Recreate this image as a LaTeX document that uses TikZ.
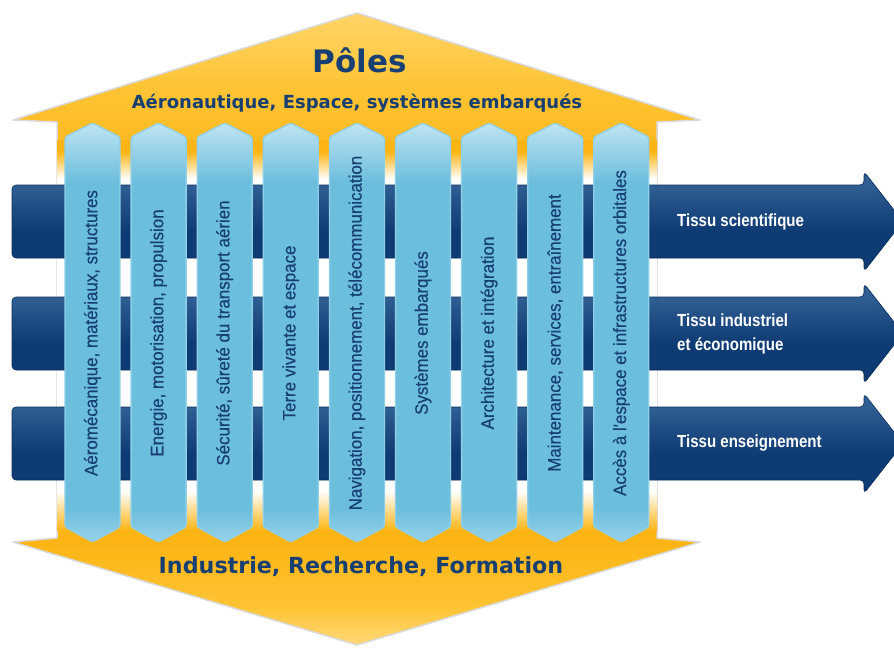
\documentclass[tikz,border=0pt]{standalone}
\usepackage{fontspec}
\setmainfont{Liberation Sans}
\newfontfamily\headfont{DejaVu Sans}
\newfontfamily\condfont[FakeStretch=0.86]{Liberation Sans}
\newfontfamily\colfont[FakeStretch=0.94,FakeBold=0.4]{Liberation Sans}
\definecolor{orng}{HTML}{FDB515}
\definecolor{ormid}{HTML}{FEC434}
\definecolor{ortop}{HTML}{FFD466}
\definecolor{orbot}{HTML}{FFD878}
\definecolor{navy}{HTML}{0E3B73}
\definecolor{navytop}{HTML}{2F5E92}
\definecolor{colfill}{HTML}{6CBEDD}
\definecolor{coltop}{HTML}{C0E4F2}
\definecolor{colbot}{HTML}{98D2E9}
\definecolor{colborder}{HTML}{8FCFE7}
\definecolor{txtblue}{HTML}{173F72}
\pgfdeclareverticalshading{orangeshade}{100bp}{color(0bp)=(orbot); color(25bp)=(orbot); color(28bp)=(ormid); color(33bp)=(orng); color(62bp)=(orng); color(69bp)=(ormid); color(75bp)=(ortop); color(100bp)=(ortop)}
\pgfdeclareverticalshading{whiteshade}{100bp}{color(0bp)=(orng); color(25bp)=(orng); color(30bp)=(white); color(70bp)=(white); color(73.5bp)=(orng); color(100bp)=(orng)}
\pgfdeclareverticalshading{colshade}{100bp}{color(0bp)=(colbot); color(25bp)=(colbot); color(29bp)=(colfill); color(68bp)=(colfill); color(75bp)=(coltop); color(100bp)=(coltop)}
\pgfdeclareverticalshading{bandshade}{100bp}{color(0bp)=(navy); color(25bp)=(navy); color(45bp)=(navy); color(68bp)=(navytop); color(75bp)=(navytop); color(100bp)=(navytop)}
\tikzset{
  orangebody/.style={shading=orangeshade, draw=black!15, line width=1.5pt, line join=round},
  whitezone/.style={shading=whiteshade, draw=none},
  band/.style={shading=bandshade, draw=navy!80!black, line width=0.6pt, rounded corners=4pt},
  colbox/.style={shading=colshade, draw=colborder, line width=1.3pt, rounded corners=2.5pt},
  coltext/.style={font=\colfont\fontsize{18}{20}\selectfont, text=txtblue, inner sep=0pt},
  bandtext/.style={font=\condfont\bfseries\fontsize{17.5}{24}\selectfont, text=white, anchor=west, align=left, inner sep=0pt},
  headtext/.style={font=\headfont\bfseries, text=txtblue, inner sep=0pt}
}
\begin{document}
\begin{tikzpicture}[x=1pt,y=-1pt]
\useasboundingbox (0,0) rectangle (894,648);
\clip (0,0) rectangle (894,648);
% orange hexagon
\path[orangebody] (357,13) -- (700,120) -- (657,122) -- (657,538) -- (700,542) -- (357,645) -- (13,542) -- (57,538) -- (57,122) -- (13,120) -- cycle;
% white zone behind columns
\path[whitezone] (57,140) rectangle (657,530);
% blue bands
\foreach \yc/\nm in {221.5/b1,333.5/b2,443.5/b3}{
  \path[band] (864,\yc-50) -- (903,\yc) -- (864,\yc+50) -- (864,\yc+36.5) -- (12,\yc+36.5) -- (12,\yc-36.5) -- (864,\yc-36.5) -- cycle;
  \coordinate (\nm) at (677,\yc);
}
% columns
\foreach \i/\t in {1/{Aéromécanique, matériaux, structures},
                   2/{Energie, motorisation, propulsion},
                   3/{Sécurité, sûreté du transport aérien},
                   4/{Terre vivante et espace},
                   5/{Navigation, positionnement, télécommunication},
                   6/{Systèmes embarqués},
                   7/{Architecture et intégration},
                   8/{Maintenance, services, entraînement},
                   9/{Accès à l'espace et infrastructures orbitales}}{
  \pgfmathsetmacro\cx{92.5+66.1*(\i-1)}
  \path[colbox] (\cx-27.5,137) -- (\cx,123) -- (\cx+27.5,137) -- (\cx+27.5,527) -- (\cx,542) -- (\cx-27.5,527) -- cycle;
  \node[coltext, rotate=90] (col\i) at (\cx,333) {\t};
}
% headings
\node[headtext, font=\headfont\bfseries\fontsize{31}{36}\selectfont] (poles) at (360,60) {Pôles};
\node[headtext, font=\headfont\bfseries\fontsize{18}{21}\selectfont] (aero) at (357,103) {Aéronautique, Espace, systèmes embarqués};
\node[headtext, font=\headfont\bfseries\fontsize{22.2}{26}\selectfont] (irf) at (361,567) {Industrie, Recherche, Formation};
% band labels
\node[bandtext] (t1) at (b1) {Tissu scientifique};
\node[bandtext] (t2) at (b2) {Tissu industriel\\et économique};
\node[bandtext] (t3) at (b3) {Tissu enseignement};
\end{tikzpicture}
\end{document}
